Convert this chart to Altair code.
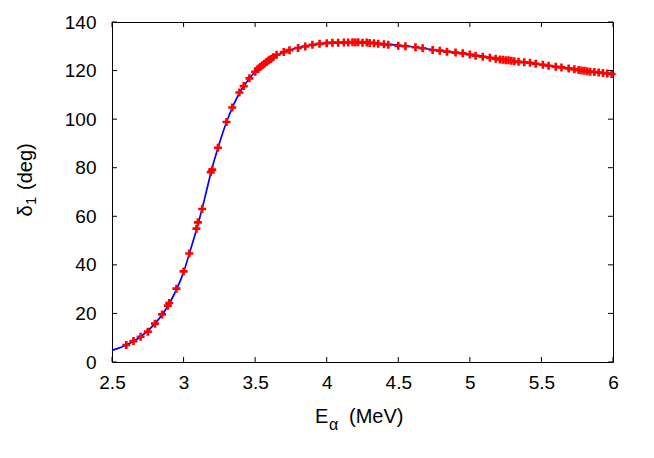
import altair as alt
import pandas as pd

# fitted curve
curve_x = [2.5, 2.6, 2.7, 2.8, 2.9, 3.0, 3.05, 3.1, 3.15, 3.2, 3.25, 3.3, 3.35, 3.4, 3.45,
           3.5, 3.6, 3.7, 3.8, 3.9, 4.0, 4.2, 4.4, 4.6, 4.8, 5.0, 5.2, 5.4, 5.6, 5.8, 6.0]
curve_y = [4.8, 7.0, 10.4, 15.8, 24.0, 37.0, 46.5, 56.5, 68.0, 80.0, 90.0, 98.8, 106.0, 111.8, 116.0,
           119.5, 124.5, 127.6, 129.4, 130.6, 131.3, 131.6, 131.0, 129.8, 128.1, 126.7, 124.8, 123.3, 121.6, 120.0, 118.7]

# phase-shift data points
pts_x = [2.60, 2.65, 2.70, 2.75, 2.80, 2.85, 2.89, 2.90, 2.95, 3.00, 3.04, 3.09, 3.10, 3.13, 3.19, 3.20,
         3.24, 3.30, 3.34, 3.39, 3.42, 3.46, 3.50, 3.52, 3.535, 3.55, 3.565, 3.58, 3.595, 3.61, 3.625,
         3.65, 3.70, 3.74, 3.80, 3.85, 3.90, 3.95, 4.00, 4.04, 4.08, 4.12, 4.15, 4.18, 4.20, 4.22, 4.25,
         4.28, 4.30, 4.33, 4.36, 4.40, 4.43, 4.50, 4.55, 4.62, 4.67, 4.74, 4.79, 4.84, 4.90, 4.95, 5.00,
         5.04, 5.09, 5.14, 5.18, 5.21, 5.23, 5.25, 5.27, 5.29, 5.31, 5.34, 5.38, 5.42, 5.46, 5.51, 5.55,
         5.60, 5.64, 5.69, 5.73, 5.76, 5.78, 5.80, 5.82, 5.84, 5.87, 5.90, 5.93, 5.96, 5.99]
pts_y = [7.0, 8.6, 10.4, 12.5, 15.8, 19.6, 23.2, 24.3, 30.2, 37.3, 44.7, 54.9, 57.5, 63.0, 78.2, 79.2,
         88.2, 98.8, 104.8, 111.0, 113.6, 116.8, 119.5, 120.8, 121.5, 122.2, 122.8, 123.5, 124.2, 124.8, 125.5,
         126.5, 127.6, 128.4, 129.3, 129.9, 130.6, 131.0, 131.3, 131.5, 131.5, 131.6, 131.6, 131.7, 131.6, 131.7, 131.5,
         131.6, 131.4, 131.3, 131.0, 130.8, 130.6, 130.2, 130.0, 129.6, 129.2, 128.5, 128.2, 127.8, 127.4, 127.1, 126.6,
         126.1, 125.7, 125.3, 124.9, 124.6, 124.5, 124.3, 124.2, 124.0, 123.8, 123.6, 123.4, 123.2, 122.8, 122.4, 122.0,
         121.6, 121.3, 120.9, 120.5, 120.2, 120.0, 119.9, 119.7, 119.5, 119.4, 119.2, 119.0, 118.8, 118.6]

x_ticks = [2.5, 3.0, 3.5, 4.0, 4.5, 5.0, 5.5, 6.0]
y_ticks = [0, 20, 40, 60, 80, 100, 120, 140]

W, H = 501, 340
FONT = "Liberation Sans"
FS = 19
TL = 5

xs = alt.Scale(domain=[2.5, 6], nice=False, zero=False)
ys = alt.Scale(domain=[0, 140], nice=False)

curve = pd.DataFrame({"x": curve_x, "y": curve_y})
pts = pd.DataFrame({"x": pts_x, "y": pts_y})
xt = pd.DataFrame({"t": x_ticks})
yt = pd.DataFrame({"t": y_ticks})
one = pd.DataFrame({"a": [0]})

line = alt.Chart(curve).mark_line(color="#0000ff", strokeWidth=1.7, interpolate="monotone").encode(
    x=alt.X("x:Q", scale=xs, axis=alt.Axis(values=x_ticks, title=None, labelPadding=11,
                                           format="~g", labelFlush=False)),
    y=alt.Y("y:Q", scale=ys, axis=alt.Axis(values=y_ticks, title=None, labelPadding=16,
                                           labelFlush=False)),
)

points = alt.Chart(pts).mark_point(
    shape="M-1,0H1M0,-1V1", filled=False, stroke="#ff0000", strokeWidth=2.6, size=64, opacity=1
).encode(x=alt.X("x:Q", scale=xs), y=alt.Y("y:Q", scale=ys))

tick_b = alt.Chart(xt).mark_rule(color="black", strokeWidth=1).encode(
    x=alt.X("t:Q", scale=xs), y=alt.value(H), y2=alt.value(H - TL))
tick_t = alt.Chart(xt).mark_rule(color="black", strokeWidth=1).encode(
    x=alt.X("t:Q", scale=xs), y=alt.value(0), y2=alt.value(TL))
tick_l = alt.Chart(yt).mark_rule(color="black", strokeWidth=1).encode(
    y=alt.Y("t:Q", scale=ys), x=alt.value(0), x2=alt.value(TL))
tick_r = alt.Chart(yt).mark_rule(color="black", strokeWidth=1).encode(
    y=alt.Y("t:Q", scale=ys), x=alt.value(W), x2=alt.value(W - TL))

def txt(s, x, y, size, angle=0):
    return alt.Chart(one).mark_text(
        font=FONT, fontSize=size, align="left", baseline="alphabetic", angle=angle, color="black"
    ).encode(text=alt.value(s), x=alt.value(x), y=alt.value(y))

xt_E = txt("E", 203, 401, 20)
xt_a = txt("α", 217, 408, 16)
xt_u = txt("(MeV)", 237, 401, 20)

yt_d = txt("δ", -80, 194.5, 20, 270)
yt_1 = txt("1", -76, 183, 15, 270)
yt_u = txt("(deg)", -80, 168, 20, 270)

chart = alt.layer(line, points, tick_b, tick_t, tick_l, tick_r,
                  xt_E, xt_a, xt_u, yt_d, yt_1, yt_u).properties(
    width=W, height=H,
    padding={"left": 104, "top": 14, "right": 25, "bottom": 80},
    autosize="none",
).configure_view(stroke="black", strokeWidth=1).configure_axis(
    domain=False, ticks=False, grid=False, labelFont=FONT, labelFontSize=FS, labelColor="black"
)

chart.save("out.html", embed_options={"renderer": "svg", "actions": False})
